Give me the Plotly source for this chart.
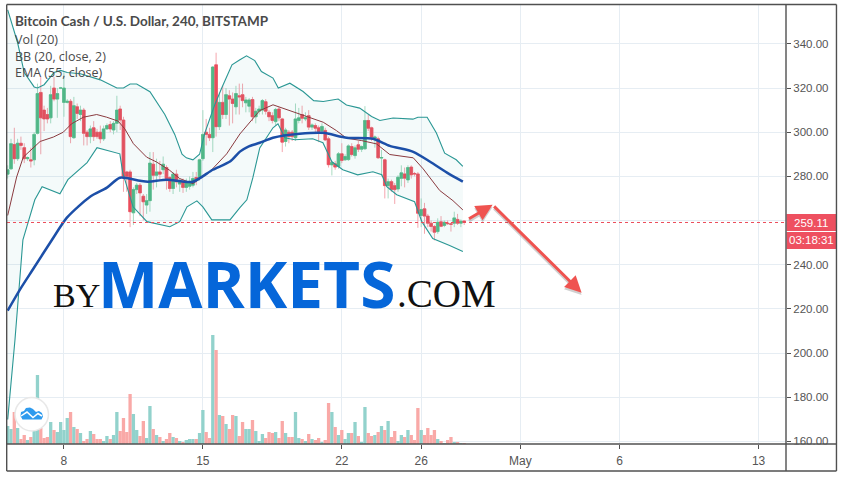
import plotly.graph_objects as go

# ---- OHLC + volume per 4h bar ----
opens = [281,283.4,294.4,288,295,293,288,287.5,287.5,299.5,318,310,308,306.5,320,315,320,313.5,313.5,314,297.5,311.5,308,310,300,298,302,300,300,297,301.5,303.5,301,304,310.5,305.5,282,282,263.5,274,276,271,267,269,285.5,280.5,282,283,284,279.5,274.5,281,276.5,277.5,275,275.5,276,279.5,279.5,288,300,299,297.5,330.5,302.5,313.5,308,316.5,315,311.5,316.5,
         317,313.3,311.8,314.8,307,309.5,310,313.8,309,307.5,304.8,310.5,306,295.8,300,300,297.5,305.3,308,306,307.5,302.3,303,302,300.5,300.8,297,285.2,285.7,284.5,290.2,287.5,287.6,293.5,289.4,294.3,292.3,292.5,305.3,302,297.3,297,288.3,287.5,275.8,277.6,275.8,274.3,279.1,281.1,278.4,284.2,281.3,281.1,262.3,265.3,262,258.8,257.3,255,259.4,257.8,258.8,258.5,258.8,260.5,258.8,259.8]
highs = [285,297,302,297,298,295,289,293,300,322,325,312,311,321,325,320,320.5,327,315,315,316,313,312,311,301,303,305,301.5,303,303,304,305,305,316.5,312,307,282.5,283,275,277,277,272,272,291,291,288,287,289,285,280,282,283,279,279,279,280,282,282,288,310,306,302,330,336,318,321,320,319,318,321,322,
         322,316,315.5,316,311,312,315,315,310,309,311,311.5,306.5,302,301,301,313,311,312,309,310,304,304,303,304,302,298,287,287,291,295,290,294.5,295,294,296,294,311.8,308,302.5,298.5,298,292,288,279,278.5,277,280.5,285,284,285,285,282,282,270,268,263,260,258,261,262,260,260,259,264,263,260.5,260]
lows = [279,283,285.7,287,292,286,287,284,285,299,290,300.5,304,304,314,306.5,319.5,307,313,295,297,306,305,294,294,295,296,297,295,296,301,300,299,300,301,273,273,257,258,272,262,260,263,264,274,275,278,281,274,273,272,275,273,272.5,273,274,275,276,278,287,294,296,291,298,301,306,306,303,304,308,308,
        311.3,309,309,305,304,308,308,308,305,304,303,305,291,293.5,295,296,296,304,304,305,301,301,300,295.5,299,296,284,280.4,283,283.5,286,287,287,289,288,291,291,292,300.5,296,293,288,280,270,270,273,267.5,273,275.5,275,277,279,280,256.7,257,254,257,255,251,254,257,257,258,255,257,258,257,258]
closes = [283,294.8,288,295,294,288,288.5,287,299,317.5,306.5,306,306,317,315,317.5,320,320,314,298,312,308.5,310,299.5,298,301.5,298,298,297,301.5,303,301.5,304,310,305.5,280,280,264,274,276,272.5,268.5,269,286,280.5,282,281,285.5,279,274.5,281,277.5,277.5,275,277.5,277.5,279,279,287.5,299,299,297.5,329.5,302.5,313.5,308,317,315,313,317.5,316,
          314.3,314.6,314.6,307,309.5,310.5,314.3,309.5,307,305.3,310.3,306.5,295.5,301,298,298,306,306.5,306.3,306.5,302.3,303.3,301.8,300.3,302.6,296.5,285.3,286.3,284.2,290.2,287.2,289,293.8,289.9,292.9,292.3,293.5,305.3,301.8,297.7,297.8,288.4,288.5,275.8,277.6,274,274,279.6,281.6,279.2,284,280.7,281.1,263.3,265,262,258.8,257.3,254.7,259.2,257.4,259.2,258.6,258.3,261.2,258.8,259.7,259.11]
volumes = [18,15,32,16,5,9,4,7,14,69,16,6,7,22,14,12,22,14,26,32,17,15,11,3,5,13,10,5,5,3,8,5,9,32,13,26,12,50,30,14,8,23,6,38,15,9,7,3,5,11,7,6,3,2,4,5,5,5,11,34,12,6,109,94,29,28,20,15,29,28,8,
           22,15,15,24,13,3,10,6,12,11,12,6,23,11,7,7,32,6,5,3,10,5,4,6,2,4,41,32,17,9,14,5,11,11,22,8,2,37,11,8,9,12,18,14,23,7,13,3,9,7,14,9,4,36,14,9,16,9,14,5,3,1,4,7,2,2,1,1]

# ---- indicators (bar position, price) ----
upper_bars = [0,3,5,8,9,11,14,16,18,22,28,33,35,37,39,43,47.5,50.5,52.7,54,56,58,59.6,62.6,64.7,67.8,70.2,72.2,74.7,76.7,80.2,81.8,85.3,89.3,92.5,95.4,99.9,102.4,106.4,110,112.5,116.5,122.5,124,126.8,129.6,132.1,135.6,137.6]
upper_vals = [355.4,340.5,327,320.5,320,321.5,327,328,327,326.5,323.7,320,320,321.8,321.8,318.3,308,299,290,288.4,287.5,290,299.7,312.4,320,330.5,332.8,334.6,332.4,327.5,324.5,320,322.2,318.4,314.3,313.9,315,312.3,310.9,307.1,305.3,306.4,305.9,306.8,306.8,299.6,290.5,287.5,284.5]
lower_bars = [0,2.2,4.6,8.2,10.4,15.8,18.2,24,27,33.9,34.8,37.9,42.1,49,52,54.2,57.2,59,61.7,67.2,70.2,72.3,74.1,76.2,80.2,81.7,83.8,86.8,92.2,95.3,98,101.3,105.8,110.4,113.1,114.6,117.6,123,125.2,128.5,133.6,137.6]
lower_vals = [169.9,206,251.3,269.4,275.3,272.1,278.5,286.2,293,290.2,281.6,266.2,259.5,257.2,259.5,266.2,268.9,266.2,260.3,260.3,265.8,269.4,279.3,292.9,302,303.8,297.5,296.6,297,295.2,286.6,283,280.7,282.1,280.7,275.3,271.7,268.5,259.5,251.8,248.7,246]
basis_bars = [0,2.7,4.7,7.8,9.8,13.8,16.8,19.3,22.9,26.9,29.9,33.4,35.4,38,42,45,49,52,56,61,66.2,70.2,72.7,76.2,80.2,85.3,89.3,95.4,99.4,102.4,107,111.5,115.5,122.6,125.6,130.6,134.6,137.6]
basis_vals = [262.3,279.7,288.7,293.2,295.8,297.8,300,303.8,306.8,308,306.8,305,301.5,294.8,288.7,286.5,282.7,279,276.7,281.9,290.2,299.2,303.8,309.8,312.4,309.8,307.5,304.5,300.7,297.3,296.2,294.7,289.9,288.4,283.4,273.6,269,264.8]
ema_bars = [0,3.7,7.6,13.4,17.9,24.9,30,33.9,40,42.4,48.1,56,62,67.2,70.2,72.6,76.2,80.2,88.3,95.3,102.5,110.4,115.5,122.6,127.7,132.8,137.6]
ema_vals = [219.2,228.7,237.8,251.3,261.3,270.8,274.9,279.4,278,277.6,278.5,277.6,283,286.7,291.2,293.4,295.2,297.5,299.3,299.7,297.5,297,293.8,291.1,286.6,281.7,277.6]

# ---- axis labels and drawn arrows ----
x_tick_bars = [17,59,101,125,155,185,227]
x_tick_text = ["8","15","22","26","May","6","13"]
y_ticks = [160,180,200,220,240,260,280,300,320,340]
y_hidden_by_tag = [260]
legend_lines = ["Bitcoin Cash / U.S. Dollar, 240, BITSTAMP","Vol (20)","BB (20, close, 2)","EMA (55, close)"]
arrow_bars = [139,146.6,173.5]
arrow_prices = [260.4,267.1,227.3]
last_price = closes[-1]
countdown = "03:18:31"

# ---- styles ----
W, H = 844, 478
L, R, T, B = 7, 786.5, 5, 444
GREEN, RED = "#53b987", "#eb4d5c"
GREEN_WICK, RED_WICK = "#a9dcc3", "#f5a6ae"
GREEN_VOL, RED_VOL = "#92d2cc", "#f9a9a7"
GRID = "#e6edf3"
FRAME = "#505050"
TEXT = "#555555"

def px(x):
    return (x - L) / (R - L)
def py(y):
    return (B - y) / (B - T)

bars = list(range(len(closes)))
up = [c >= o for o, c in zip(opens, closes)]

fig = go.Figure()
# volume sits on the base axis so the price traces draw above it
fig.add_trace(go.Bar(x=bars, y=volumes, width=1.0, yaxis="y",
                     marker=dict(color=[GREEN_VOL if u else RED_VOL for u in up], line_width=0)))
# Bollinger band fill
fig.add_trace(go.Scatter(x=upper_bars + lower_bars[::-1], y=upper_vals + lower_vals[::-1], yaxis="y2",
                         mode="lines", line=dict(width=0), fill="toself",
                         fillcolor="rgba(38,166,154,0.05)"))
fig.add_trace(go.Scatter(x=upper_bars, y=upper_vals, yaxis="y2", mode="lines", line=dict(color="#2a9794", width=1.1)))
fig.add_trace(go.Scatter(x=lower_bars, y=lower_vals, yaxis="y2", mode="lines", line=dict(color="#2a9794", width=1.1)))
fig.add_trace(go.Scatter(x=basis_bars, y=basis_vals, yaxis="y2", mode="lines", line=dict(color="#8a3a3f", width=1)))
fig.add_trace(go.Scatter(x=ema_bars, y=ema_vals, yaxis="y2", mode="lines",
                         line=dict(color="#1c4fa8", width=2.5, shape="spline", smoothing=0.7)))
# wicks: full high/low range in the light colours
fig.add_trace(go.Candlestick(x=bars, open=opens, high=highs, low=lows, close=closes, yaxis="y2", whiskerwidth=0,
                             increasing=dict(line=dict(color=GREEN_WICK, width=1), fillcolor=GREEN_WICK),
                             decreasing=dict(line=dict(color=RED_WICK, width=1), fillcolor=RED_WICK)))
# bodies: open/close range only, in the saturated colours
fig.add_trace(go.Candlestick(x=bars, open=opens, close=closes, yaxis="y2", whiskerwidth=0,
                             high=[max(o, c) for o, c in zip(opens, closes)],
                             low=[min(o, c) for o, c in zip(opens, closes)],
                             increasing=dict(line=dict(color=GREEN, width=0.6), fillcolor=GREEN),
                             decreasing=dict(line=dict(color=RED, width=0.6), fillcolor=RED)))

shapes = [
    # last price line
    dict(type="line", xref="paper", x0=0, x1=1, yref="y2", y0=last_price, y1=last_price,
         line=dict(color=RED, width=1, dash="dot"), layer="above"),
    # clip area below the plot on the price scale
    dict(type="rect", xref="paper", x0=px(R + 1), x1=px(836.5), yref="paper", y0=py(470.5), y1=py(444.5),
         fillcolor="white", line_width=0, layer="above"),
    # price tags
    dict(type="rect", xref="paper", x0=px(R + 0.5), x1=px(837), yref="paper", y0=py(231), y1=py(214),
         fillcolor="#ee5060", line_width=0, layer="above"),
    dict(type="rect", xref="paper", x0=px(R + 0.5), x1=px(837), yref="paper", y0=py(249), y1=py(232),
         fillcolor="#ee5060", line_width=0, layer="above"),
]
# chart frame
for x0, y0, x1, y1 in [(6.7, 4.5, 837, 4.5), (6.7, 471, 837, 471), (6.7, 4.5, 6.7, 471), (837, 4.5, 837, 471),
                       (R, 4.5, R, 471), (6.7, 444, 837, 444)]:
    shapes.append(dict(type="line", xref="paper", yref="paper", x0=px(x0), x1=px(x1), y0=py(y0), y1=py(y1),
                       line=dict(color=FRAME, width=1.4), layer="above"))
# logo badge
shapes.append(dict(type="circle", xref="paper", yref="paper", x0=px(15), x1=px(48.5), y0=py(431), y1=py(397.5),
                   fillcolor="white", line=dict(color="#e8e8e8", width=1.5), layer="above"))
def poly(points):
    return "M " + " L ".join(f"{px(a):.5f},{py(b):.5f}" for a, b in points) + " Z"
shapes.append(dict(type="path", xref="paper", yref="paper", fillcolor="#2f9bee", line_width=0, layer="above",
                   path=poly([(20.5, 416), (21, 412), (24, 411), (26, 408), (30, 407.5), (33, 409), (36, 412),
                              (39, 411), (42, 413), (43, 416.5), (41.5, 419.5), (22.5, 419.5)])))
shapes.append(dict(type="path", xref="paper", yref="paper", fillcolor="rgba(0,0,0,0)",
                   line=dict(color="white", width=1.5), layer="above",
                   path="M " + " L ".join(f"{px(a):.5f},{py(b):.5f}" for a, b in
                                          [(21, 416), (27, 412), (33, 417.5), (38, 413.5), (42, 416)])))

ann = []
for i, (t, yy) in enumerate(zip(legend_lines, [21, 39, 56, 73])):
    fnt = dict(family="Lato", size=13.5, color="#4a4a4a", weight=700) if i == 0 else dict(family="Open Sans", size=12.5, color="#4a4a4a")
    ann.append(dict(xref="paper", yref="paper", x=px(13), y=py(yy), text=t, showarrow=False, xanchor="left",
                    yanchor="middle", font=fnt))
# watermark
ann += [
    dict(xref="paper", yref="paper", x=px(51), y=py(295.5), text="BY", showarrow=False, xanchor="left", yanchor="middle",
         font=dict(family="Liberation Serif", size=34, color="#111111")),
    dict(xref="paper", yref="paper", x=px(96), y=py(283), text="<b>MARKETS</b>", showarrow=False, xanchor="left",
         yanchor="middle", font=dict(family="Open Sans", size=64, color="#0566d9")),
    dict(xref="paper", yref="paper", x=px(395), y=py(293.7), text=".COM", showarrow=False, xanchor="left", yanchor="middle",
         font=dict(family="Liberation Serif", size=39, color="#111111")),
]
# price tag text
ann.append(dict(xref="paper", yref="paper", x=px(812), y=py(222.5), text=f"{last_price:.2f}", showarrow=False,
                xanchor="center", yanchor="middle", font=dict(family="Liberation Sans", size=11.5, color="white")))
ann.append(dict(xref="paper", yref="paper", x=px(812), y=py(240), text=countdown, showarrow=False,
                xanchor="center", yanchor="middle", font=dict(family="Liberation Sans", size=11.5, color="white")))
# drawn arrows: soft shadow first, then the arrow
for dy, colr in [(-1.0, "rgba(90,90,90,0.28)"), (0, "#ef5350")]:
    for k in range(2):
        ann.append(dict(xref="x", yref="y2", axref="x", ayref="y2",
                        x=arrow_bars[k + 1], y=arrow_prices[k + 1] + dy,
                        ax=arrow_bars[k], ay=arrow_prices[k] + dy, text="", showarrow=True,
                        arrowhead=2, arrowsize=1.1, arrowwidth=3, arrowcolor=colr))

fig.update_layout(
    width=W, height=H, autosize=False, showlegend=False, barmode="overlay",
    boxgap=0.1, boxgroupgap=0.1,
    margin=dict(l=L, r=W - R, t=T, b=H - B, pad=0),
    paper_bgcolor="white", plot_bgcolor="white",
    xaxis=dict(range=[(L - 7.7) / 3.31, (R - 7.7) / 3.31], tickmode="array", tickvals=x_tick_bars, ticktext=x_tick_text,
               showgrid=True, gridcolor=GRID, gridwidth=1.3, zeroline=False, ticks="outside", ticklen=4, tickcolor=FRAME,
               tickfont=dict(family="Liberation Sans", size=12, color=TEXT), showline=False, ticklabelstandoff=2,
               rangeslider=dict(visible=False)),
    yaxis=dict(range=[0, 439], visible=False, fixedrange=True),
    yaxis2=dict(range=[158.8, 357.6], overlaying="y", side="right", anchor="x", tickmode="array", tickvals=y_ticks,
                ticktext=["" if v in y_hidden_by_tag else f"{v:.2f}" for v in y_ticks],
                showgrid=True, gridcolor=GRID, gridwidth=1.3, zeroline=False,
                ticks="outside", ticklen=4, tickcolor=FRAME, showline=False,
                tickfont=dict(family="Liberation Sans", size=11.5, color=TEXT)),
    shapes=shapes, annotations=ann,
)
fig.write_html("out.html", config={"displayModeBar": False},
               post_script="document.body.style.margin='0';document.documentElement.style.overflow='hidden';")
